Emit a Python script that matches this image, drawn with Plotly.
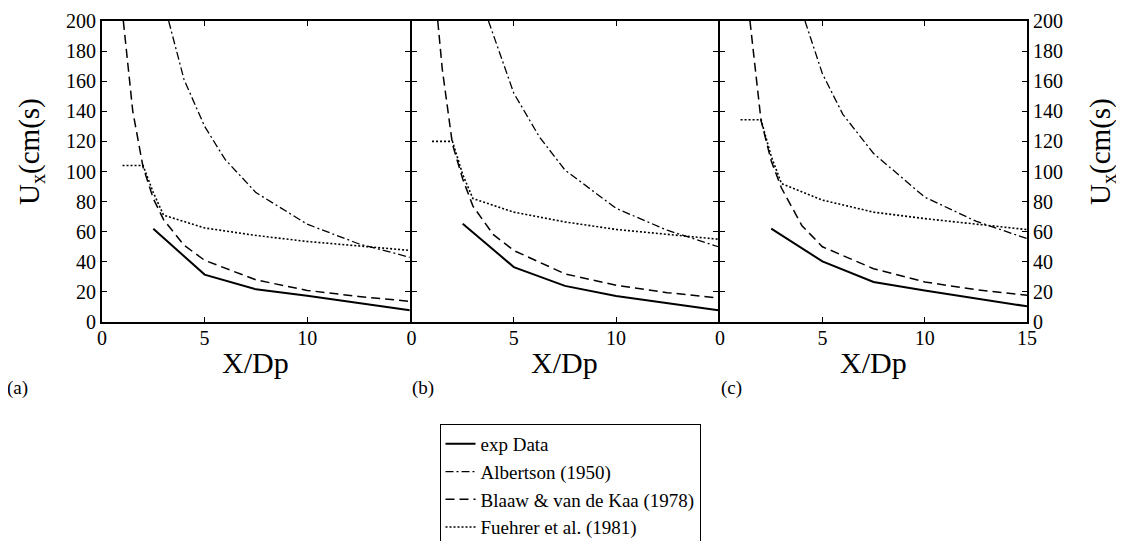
import plotly.graph_objects as go

# panel (a)
a_exp_x = [2.5, 5, 7.5, 10, 15]
a_exp_y = [62, 31.5, 21.7, 17.5, 7.8]
a_alb_x = [3.25, 4, 5, 6, 7.5, 10, 12.5, 15]
a_alb_y = [200, 161, 130, 108, 86, 65, 52, 43]
a_bla_x = [1.04, 1.5, 2, 2.5, 3, 4, 5, 7.5, 10, 12.5, 15]
a_bla_y = [200, 140, 103, 82, 68, 51, 41, 28, 21, 17, 13.7]
a_fue_x = [1, 2, 2.5, 3, 5, 7.5, 10, 12.5, 15]
a_fue_y = [104, 104, 86, 71, 62.5, 57.5, 53.5, 50.5, 47.6]

# panel (b)
b_exp_x = [2.5, 5, 7.5, 10, 15]
b_exp_y = [65.3, 36.5, 24, 17.3, 7.8]
b_alb_x = [3.76, 5, 6.25, 7.5, 10, 12.5, 15]
b_alb_y = [200, 152, 123, 101, 75.5, 61, 50]
b_bla_x = [1.28, 1.5, 2, 2.5, 3, 4, 5, 7.5, 10, 12.5, 15]
b_bla_y = [200, 168, 118, 95, 77, 58, 47.5, 32, 24.4, 19.5, 16]
b_fue_x = [1, 2, 2.5, 3, 5, 7.5, 10, 12.5, 15]
b_fue_y = [120, 120, 98, 82, 73, 66.5, 61.5, 58.5, 55]

# panel (c)
c_exp_x = [2.5, 5, 7.5, 10, 15]
c_exp_y = [62, 40.3, 26.6, 21, 10.4]
c_alb_x = [4.15, 5, 6, 7.5, 10, 12.5, 15]
c_alb_y = [200, 165, 138, 112, 83, 67, 55.4]
c_bla_x = [1.46, 2, 2.5, 3, 4, 5, 7.5, 10, 12.5, 15]
c_bla_y = [200, 134, 107, 89, 64, 50, 35.4, 26.6, 21.5, 17.7]
c_fue_x = [1, 2, 2.5, 3, 5, 7.5, 10, 12.5, 15]
c_fue_y = [134.4, 134.4, 110, 92, 81, 73, 68.7, 65, 61.4]

series_names = ["exp Data", "Albertson (1950)", "Blaaw & van de Kaa (1978)", "Fuehrer et al. (1981)"]
panel_labels = ["(a)", "(b)", "(c)"]
x_ticks = [0, 5, 10, 15]
y_ticks = [0, 20, 40, 60, 80, 100, 120, 140, 160, 180, 200]

panels = [
    [(a_exp_x, a_exp_y), (a_alb_x, a_alb_y), (a_bla_x, a_bla_y), (a_fue_x, a_fue_y)],
    [(b_exp_x, b_exp_y), (b_alb_x, b_alb_y), (b_bla_x, b_bla_y), (b_fue_x, b_fue_y)],
    [(c_exp_x, c_exp_y), (c_alb_x, c_alb_y), (c_bla_x, c_bla_y), (c_fue_x, c_fue_y)],
]

styles = [
    dict(color="black", width=2, dash="solid"),
    dict(color="black", width=1.3, dash="8px,3px,2px,3px"),
    dict(color="black", width=1.5, dash="9px,5px"),
    dict(color="black", width=1.6, dash="2px,2px"),
]

# the page body adds an 8px margin, so the figure is 8px smaller
OFF = 8
W, H = 1124 - OFF, 541 - OFF
ML, MR, MT, MB = 102 - OFF, 97, 21 - OFF, 219
PW, PH = W - ML - MR, H - MT - MB
FONT = "Liberation Serif"
LW = 1.8


def px(x):  # screen pixel -> paper x
    return (x - OFF - ML) / PW


def py(y):  # screen pixel -> paper y
    return (H - MB - (y - OFF)) / PH


# neighbouring frames drawn on the same pixel column
b1, b2 = 307.8 / PW, 616.3 / PW
x_domains = [[0, b1], [b1 + LW / PW, b2], [b2 + LW / PW, 1]]

fig = go.Figure()

for p, data in enumerate(panels):
    suffix = "" if p == 0 else str(p + 1)
    for s, (xs, ys) in enumerate(data):
        fig.add_trace(go.Scatter(
            x=xs, y=ys, mode="lines", name=series_names[s],
            line=styles[s], showlegend=(p == 0),
            xaxis="x" + suffix, yaxis="y" + suffix,
        ))

axis_common = dict(
    showline=True, linecolor="black", linewidth=LW, mirror="ticks",
    ticks="inside", ticklen=5, tickcolor="black", tickwidth=1,
    showgrid=False, zeroline=False, automargin=False,
    tickfont=dict(family=FONT, size=20, color="black"),
)

axes = {}
for p in range(3):
    suffix = "" if p == 0 else str(p + 1)
    ticktext = ["0", "5", "10", "15" if p == 2 else ""]
    axes["xaxis" + suffix] = dict(
        axis_common, domain=x_domains[p], range=[0, 15],
        tickvals=x_ticks, ticktext=ticktext, anchor="y" + suffix,
        ticklabelstandoff=-3,
    )
    yax = dict(axis_common, domain=[0, 1], range=[0, 200],
               tickvals=y_ticks, anchor="x" + suffix)
    if p == 1:
        yax["showticklabels"] = False
    if p == 2:
        yax["side"] = "right"
    axes["yaxis" + suffix] = yax

annotations = []
for p in range(3):
    cx = (x_domains[p][0] + x_domains[p][1]) / 2
    annotations.append(dict(
        text="X/Dp", x=cx, y=py(362), xref="paper", yref="paper",
        xanchor="center", yanchor="middle",
        showarrow=False, font=dict(family=FONT, size=30, color="black"),
    ))
    annotations.append(dict(
        text=panel_labels[p], x=px([5, 410, 719][p]), y=py(388),
        xref="paper", yref="paper", xanchor="left", yanchor="middle",
        showarrow=False, font=dict(family=FONT, size=19, color="black"),
    ))

for xpos in [31, 1102]:
    annotations.append(dict(
        text="U<sub>x</sub>(cm(s)", x=px(xpos), y=py(152),
        xref="paper", yref="paper", xanchor="center", yanchor="middle",
        textangle=-90, showarrow=False,
        font=dict(family=FONT, size=29, color="black"),
    ))

fig.update_layout(
    width=W, height=H,
    margin=dict(l=ML, r=MR, t=MT, b=MB, autoexpand=False),
    paper_bgcolor="white", plot_bgcolor="white",
    annotations=annotations,
    legend=dict(
        x=px(570), xanchor="center", y=py(424), yanchor="top",
        bordercolor="black", borderwidth=1, bgcolor="white",
        font=dict(family=FONT, size=19, color="black"),
        tracegroupgap=0,
    ),
    **axes,
)

fig.write_html("out.html")
